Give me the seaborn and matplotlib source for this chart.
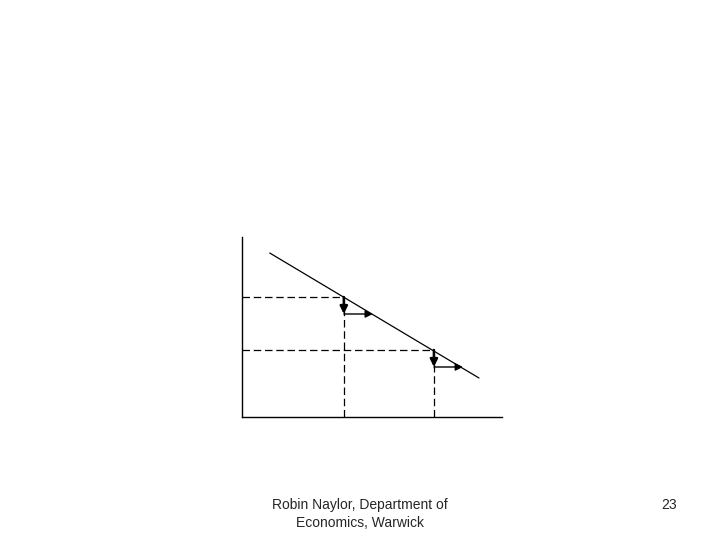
import seaborn as sns
import matplotlib.pyplot as plt

# demand line (data units, axes run 0-260 by 0-180)
line_x = [28, 237]
line_y = [164, 39]

# two points on the line, with the dashed guides
point_x = [102, 192]
point_y = [120, 67]

# arrow lengths: price fall (down) and quantity rise (right)
drop = [17, 17]
rise = [29, 29]

footer = "Robin Naylor, Department of\nEconomics, Warwick"
page = "23"

sns.set_style("white")
plt.rcParams['font.family'] = ['Liberation Sans', 'DejaVu Sans']

fig = plt.figure(figsize=(7.2, 5.4), dpi=100)
ax = fig.add_axes([0.3357, 0.2278, 0.3615, 0.3333])

sns.lineplot(x=line_x, y=line_y, color='black', linewidth=0.9, ax=ax)

for px, py, d, r in zip(point_x, point_y, drop, rise):
    # dashed guides to the axes
    ax.plot([0, px], [py, py], color='black', linestyle=(0, (6, 3)), linewidth=0.9)
    ax.plot([px, px], [0, py], color='black', linestyle=(0, (6, 3)), linewidth=0.9)
    # down arrow
    ax.annotate('', xy=(px, py - d), xytext=(px, py),
                arrowprops=dict(arrowstyle='-|>', color='black', lw=1.8,
                                mutation_scale=11, shrinkA=0, shrinkB=0))
    # right arrow
    ax.annotate('', xy=(px + r, py - d), xytext=(px, py - d),
                arrowprops=dict(arrowstyle='-|>', color='black', lw=1.0,
                                mutation_scale=11, shrinkA=0, shrinkB=0))

ax.set_xlim(0, 260)
ax.set_ylim(0, 180)
ax.set_xticks([])
ax.set_yticks([])
sns.despine(ax=ax)
for s in ['left', 'bottom']:
    ax.spines[s].set_color('black')
    ax.spines[s].set_linewidth(1.0)

fig.text(360 / 720, 1 - 514 / 540, footer, ha='center', va='center',
         fontsize=10, linespacing=1.45)
fig.text(669 / 720, 1 - 505 / 540, page, ha='center', va='center', fontsize=10)

fig.savefig('out.png', dpi=100)
